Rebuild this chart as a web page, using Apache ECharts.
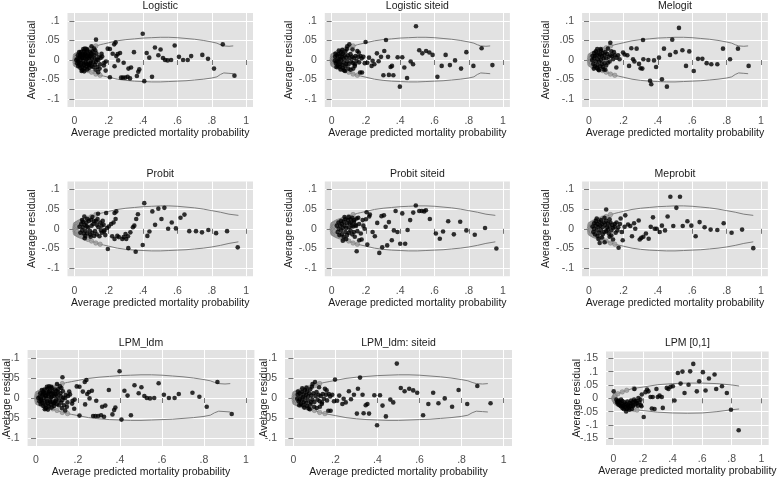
<!DOCTYPE html>
<html><head><meta charset="utf-8">
<script src="https://cdn.jsdelivr.net/npm/echarts@6/dist/echarts.min.js"></script>
<style>html,body{margin:0;padding:0;background:#fff}#c{width:778px;height:477px}</style>
</head><body><div id="c"></div>
<script>
// ---------- tick labels ----------
const xTicks = [0, 0.2, 0.4, 0.6, 0.8, 1];
const yTicks = [-0.1, -0.05, 0, 0.05, 0.1];
const yTicksLPM01 = [-0.15, -0.1, -0.05, 0, 0.05, 0.1, 0.15];
const xTitle = 'Average predicted mortality probability';
const yTitle = 'Average residual';
const panelTitles = ['Logistic', 'Logistic siteid', 'Melogit', 'Probit', 'Probit siteid', 'Meprobit', 'LPM_ldm', 'LPM_ldm: siteid', 'LPM [0,1]'];

// ---------- bounds (±2 SE) ----------
const boundLogitUpper = [[0.001,0.002],[0.003,0.006],[0.005,0.008],[0.008,0.010],[0.011,0.012],[0.015,0.013],[0.02,0.015],[0.025,0.016],[0.03,0.017],[0.035,0.018],[0.04,0.019],[0.045,0.020],[0.05,0.021],[0.06,0.023],[0.07,0.025],[0.08,0.027],[0.09,0.029],[0.1,0.031],[0.11,0.033],[0.12,0.035],[0.13,0.036],[0.14,0.038],[0.15,0.039],[0.17,0.041],[0.2,0.044],[0.25,0.049],[0.3,0.052],[0.35,0.054],[0.4,0.056],[0.45,0.057],[0.5,0.058],[0.55,0.058],[0.6,0.057],[0.65,0.055],[0.7,0.053],[0.75,0.050],[0.8,0.046],[0.83,0.043],[0.85,0.039],[0.87,0.036],[0.9,0.035],[0.925,0.036]];
const boundLogitLower = [[0.001,-0.002],[0.003,-0.006],[0.005,-0.008],[0.008,-0.010],[0.011,-0.012],[0.015,-0.013],[0.02,-0.015],[0.025,-0.016],[0.03,-0.017],[0.035,-0.018],[0.04,-0.019],[0.045,-0.020],[0.05,-0.021],[0.06,-0.023],[0.07,-0.025],[0.08,-0.027],[0.09,-0.029],[0.1,-0.031],[0.11,-0.033],[0.12,-0.035],[0.13,-0.036],[0.14,-0.038],[0.15,-0.039],[0.17,-0.041],[0.2,-0.044],[0.25,-0.049],[0.3,-0.052],[0.35,-0.054],[0.4,-0.055],[0.45,-0.056],[0.5,-0.056],[0.55,-0.055],[0.6,-0.054],[0.65,-0.053],[0.7,-0.051],[0.75,-0.049],[0.8,-0.046],[0.83,-0.043],[0.85,-0.037],[0.87,-0.033],[0.9,-0.034],[0.925,-0.035]];
const boundProbitUpper = [[0.001,0.002],[0.003,0.006],[0.005,0.008],[0.008,0.010],[0.011,0.012],[0.015,0.013],[0.02,0.015],[0.025,0.016],[0.03,0.017],[0.035,0.018],[0.04,0.019],[0.045,0.020],[0.05,0.021],[0.06,0.023],[0.07,0.025],[0.08,0.027],[0.09,0.029],[0.1,0.031],[0.11,0.033],[0.12,0.035],[0.13,0.036],[0.14,0.038],[0.15,0.039],[0.17,0.041],[0.2,0.044],[0.25,0.049],[0.3,0.052],[0.35,0.054],[0.4,0.056],[0.45,0.057],[0.5,0.058],[0.55,0.058],[0.6,0.057],[0.65,0.055],[0.7,0.053],[0.75,0.050],[0.8,0.046],[0.85,0.042],[0.9,0.037],[0.955,0.034]];
const boundProbitLower = [[0.001,-0.002],[0.003,-0.006],[0.005,-0.008],[0.008,-0.010],[0.011,-0.012],[0.015,-0.013],[0.02,-0.015],[0.025,-0.016],[0.03,-0.017],[0.035,-0.018],[0.04,-0.019],[0.045,-0.020],[0.05,-0.021],[0.06,-0.023],[0.07,-0.025],[0.08,-0.027],[0.09,-0.029],[0.1,-0.031],[0.11,-0.033],[0.12,-0.035],[0.13,-0.036],[0.14,-0.038],[0.15,-0.039],[0.17,-0.041],[0.2,-0.044],[0.25,-0.049],[0.3,-0.052],[0.35,-0.054],[0.4,-0.055],[0.45,-0.056],[0.5,-0.056],[0.55,-0.055],[0.6,-0.054],[0.65,-0.053],[0.7,-0.051],[0.75,-0.049],[0.8,-0.046],[0.85,-0.042],[0.9,-0.037],[0.955,-0.033]];
const boundLpmUpper = [[0.002,0.003],[0.006,0.008],[0.01,0.011],[0.02,0.014],[0.03,0.017],[0.04,0.019],[0.05,0.022],[0.06,0.024],[0.07,0.026],[0.08,0.028],[0.09,0.030],[0.1,0.032],[0.12,0.035],[0.15,0.038],[0.2,0.042],[0.3,0.051],[0.4,0.055],[0.5,0.057],[0.6,0.057],[0.7,0.055],[0.8,0.050],[0.85,0.046]];
const boundLpmLower = [[0.002,-0.003],[0.006,-0.008],[0.01,-0.012],[0.02,-0.018],[0.03,-0.022],[0.04,-0.025],[0.05,-0.028],[0.06,-0.030],[0.07,-0.032],[0.08,-0.034],[0.09,-0.036],[0.1,-0.037],[0.12,-0.040],[0.15,-0.043],[0.2,-0.046],[0.3,-0.052],[0.4,-0.055],[0.5,-0.056],[0.6,-0.055],[0.7,-0.050],[0.8,-0.043],[0.85,-0.040]];

// ---------- gray markers on the bounds near zero ----------
const grayNearZero = [[0.002,0],[0.004,0.006],[0.004,-0.006],[0.006,0.011],[0.006,-0.011],[0.009,0.003],[0.009,-0.003],[0.012,0.013],[0.012,-0.013],[0.016,0.007],[0.016,-0.007],[0.02,0.015],[0.02,-0.015],[0.028,0.017],[0.028,-0.017],[0.038,0.019],[0.038,-0.019],[0.05,0.021],[0.05,-0.021],[0.065,0.024],[0.065,-0.024],[0.08,0.027],[0.08,-0.027],[0.1,0.031],[0.1,-0.031],[0.125,0.036],[0.125,-0.036],[0.15,-0.039]];
const grayLpm01 = [[0.002,0.002],[0.004,-0.004],[0.008,0.008],[0.008,-0.008],[0.014,0.012],[0.014,-0.014],[0.02,-0.018],[0.03,-0.022],[0.04,-0.025],[0.055,-0.029],[0.07,-0.032],[0.085,-0.035],[0.1,-0.037],[0.12,-0.04],[0.14,-0.042],[0.16,-0.044],[0.03,0.017],[0.06,0.024],[0.09,0.03],[0.14,0.037]];

// ---------- binned average residuals ----------
const ptsLogistic = [[0.126,0.052],[0.398,0.067],[0.864,0.04],[0.932,-0.04],[0.813,-0.022],[0.778,0.003],[0.745,0.013],[0.68,0.01],[0.66,0],[0.633,0],[0.609,0.008],[0.584,0.037],[0.563,0],[0.543,-0.001],[0.528,0],[0.516,0.005],[0.502,0.027],[0.489,0.012],[0.469,0.032],[0.436,0.006],[0.421,0.018],[0.407,-0.054],[0.452,-0.043],[0.347,0.02],[0.378,-0.024],[0.372,-0.03],[0.364,-0.041],[0.33,-0.019],[0.315,-0.022],[0.296,-0.045],[0.31,-0.043],[0.283,-0.045],[0.272,-0.045],[0.324,-0.047],[0.287,-0.007],[0.266,0.018],[0.234,-0.016],[0.24,0.045],[0.232,0.04],[0.244,0.01],[0.252,0.015],[0.255,-0.001],[0.207,0.028],[0.194,0.029],[0.207,-0.044],[0.223,0.016],[0.184,-0.004],[0.174,-0.007],[0.172,-0.014],[0.182,-0.027],[0.147,-0.022],[0.139,-0.031],[0.123,-0.025],[0.158,0.016],[0.162,0.009],[0.153,0.005],[0.139,0],[0.121,0.025],[0.114,0.029],[0.104,0.014],[0.096,-0.004],[0.089,0.01],[0.083,-0.014],[0.071,0.001],[0.061,0.015],[0.052,-0.009],[0.042,-0.028],[0.048,0.005],[0.032,0.01],[0.024,-0.003],[0.017,0.003],[0.011,0],[0.075,-0.024],[0.1,0.035],
[0.02,0.012],[0.025,-0.006],[0.03,0.006],[0.03,-0.012],[0.035,0.016],[0.036,0],[0.04,-0.009],[0.04,0.021],[0.045,0.006],[0.045,-0.018],[0.05,0.013],[0.05,-0.002],[0.055,0.023],[0.056,-0.013],[0.06,0.005],[0.06,-0.021],[0.065,0.018],[0.066,-0.006],[0.07,0.011],[0.07,-0.016],[0.075,0.025],[0.076,0.003],[0.08,-0.009],[0.08,0.016],[0.085,0.005],[0.086,-0.02],[0.09,0.021],[0.092,-0.008],[0.095,0.009],[0.1,-0.015],[0.102,0.004],[0.106,0.022],[0.11,-0.006],[0.116,0.012],[0.12,-0.012],[0.128,0.017],[0.13,0.001],[0.134,-0.018],[0.142,0.008],[0.15,-0.011],[0.016,-0.008],[0.022,-0.015],[0.028,0.02],[0.052,0.028],[0.062,0.029],[0.047,-0.026],[0.057,-0.029],[0.072,0.028],[0.035,-0.02],[0.04,0.012],[0.058,0.01],[0.068,-0.01],[0.078,0.012],[0.088,-0.012],[0.098,0.018],[0.108,-0.018],[0.118,0.004],[0.126,-0.005]];
const ptsLogisticSite = [[0.492,0.086],[0.317,0.051],[0.938,-0.013],[0.875,0.03],[0.827,-0.015],[0.786,0.02],[0.755,-0.022],[0.72,-0.001],[0.69,-0.013],[0.665,0.013],[0.642,-0.015],[0.617,-0.043],[0.589,0.013],[0.57,0.019],[0.551,0.023],[0.529,0.017],[0.511,0.025],[0.475,-0.011],[0.461,-0.004],[0.44,-0.046],[0.424,-0.019],[0.398,-0.068],[0.412,0.007],[0.385,0.007],[0.352,-0.015],[0.344,-0.018],[0.334,-0.038],[0.36,-0.039],[0.329,0.008],[0.302,-0.039],[0.307,0.023],[0.288,0.008],[0.274,-0.003],[0.264,0.017],[0.249,-0.011],[0.239,-0.002],[0.233,-0.015],[0.198,0.046],[0.218,0.006],[0.208,-0.007],[0.193,-0.008],[0.177,-0.032],[0.166,-0.032],[0.169,0.01],[0.158,0.019],[0.15,0.023],[0.136,-0.011],[0.126,-0.022],[0.111,-0.025],[0.103,0.04],[0.091,0.035],[0.122,0.027],[0.084,-0.011],[0.078,-0.028],
[0.02,0.008],[0.025,-0.008],[0.03,0.012],[0.03,-0.004],[0.035,0.004],[0.035,-0.015],[0.04,0.015],[0.04,-0.006],[0.045,0.002],[0.045,-0.018],[0.05,0.01],[0.05,-0.01],[0.055,0.02],[0.055,0],[0.06,-0.012],[0.06,0.008],[0.065,0.016],[0.065,-0.02],[0.07,0.004],[0.07,-0.006],[0.075,0.012],[0.08,-0.016],[0.08,0.022],[0.085,0.006],[0.09,-0.004],[0.095,0.012],[0.1,-0.01],[0.105,0.005],[0.11,0.015],[0.115,-0.004],[0.12,0.008],[0.13,0.005],[0.14,0.01],[0.145,-0.002],[0.018,-0.002],[0.022,0.016],[0.028,-0.018],[0.042,0.024],[0.052,-0.024],[0.062,0.026],[0.072,-0.026],[0.088,0.028],[0.098,-0.022],[0.125,-0.008],[0.135,-0.015],[0.155,0.008],[0.16,-0.006],[0.175,0.004],[0.185,0.008]];
const ptsMelogit = [[0.523,0.082],[0.314,0.051],[0.484,0.052],[0.928,-0.015],[0.866,0.029],[0.82,0.002],[0.779,0.029],[0.746,-0.011],[0.711,-0.011],[0.684,-0.008],[0.659,0.003],[0.634,0.003],[0.609,-0.028],[0.583,0.022],[0.564,-0.015],[0.543,0.025],[0.504,0.02],[0.471,0.013],[0.436,0.029],[0.424,-0.049],[0.453,-0.068],[0.407,0.006],[0.39,-0.018],[0.378,-0.001],[0.355,-0.053],[0.362,-0.062],[0.345,0],[0.316,0.002],[0.31,-0.022],[0.3,-0.021],[0.291,-0.01],[0.277,0.029],[0.264,-0.004],[0.246,0.03],[0.233,-0.015],[0.256,0.002],[0.223,0.012],[0.207,0.014],[0.198,0.019],[0.169,0.012],[0.178,0.002],[0.159,-0.019],[0.145,0.02],[0.13,0.022],[0.11,0.029],[0.124,0.044],[0.095,-0.025],[0.11,-0.007],
[0.02,0.01],[0.025,-0.01],[0.03,0.004],[0.03,0.018],[0.035,-0.016],[0.035,0.01],[0.04,-0.004],[0.04,0.022],[0.045,0.012],[0.045,-0.02],[0.05,0.002],[0.05,-0.012],[0.055,0.018],[0.055,-0.024],[0.06,0.008],[0.06,-0.004],[0.065,0.014],[0.065,-0.016],[0.07,0.024],[0.07,0],[0.075,-0.01],[0.075,0.01],[0.08,0.018],[0.08,-0.018],[0.085,0.004],[0.09,0.012],[0.09,-0.008],[0.095,0.02],[0.1,0.004],[0.1,-0.014],[0.105,0.016],[0.115,0.008],[0.12,-0.004],[0.125,0.012],[0.135,0.01],[0.14,0.002],[0.15,0.012],[0.16,0.006],[0.018,0],[0.028,-0.022],[0.048,0.028],[0.058,-0.026],[0.068,0.028],[0.085,-0.024]];
const ptsProbit = [[0.407,0.065],[0.37,0.037],[0.36,0.025],[0.349,0.008],[0.341,0.004],[0.326,-0.009],[0.314,-0.049],[0.357,-0.058],[0.398,-0.041],[0.425,-0.018],[0.437,-0.007],[0.454,0.044],[0.47,0.01],[0.489,0.051],[0.507,0.025],[0.524,0.053],[0.546,0],[0.567,0.016],[0.591,0.001],[0.618,0.028],[0.641,0.036],[0.669,-0.006],[0.708,-0.006],[0.743,-0.009],[0.78,-0.003],[0.825,-0.011],[0.889,-0.006],[0.951,-0.047],[0.312,-0.019],[0.298,-0.013],[0.287,-0.021],[0.279,-0.026],[0.302,-0.026],[0.259,-0.021],[0.25,-0.018],[0.234,-0.026],[0.22,-0.019],[0.228,0.016],[0.24,0.025],[0.244,0.044],[0.234,0.04],[0.214,0.012],[0.195,-0.051],[0.185,0.04],[0.172,-0.007],[0.158,0.008],[0.146,-0.019],[0.138,0.038],[0.131,0.01],[0.115,0.019],[0.097,0.023],[0.092,-0.015],[0.072,0.006],[0.064,-0.018],[0.058,0.031],
[0.03,0.005],[0.035,-0.01],[0.04,0.012],[0.045,-0.004],[0.05,0.018],[0.05,0.004],[0.055,-0.012],[0.06,0.01],[0.065,-0.005],[0.07,0.015],[0.075,-0.012],[0.08,0.004],[0.085,0.02],[0.09,-0.005],[0.1,0.008],[0.105,-0.01],[0.11,0.012],[0.12,-0.006],[0.125,0.02],[0.13,-0.014],[0.14,0.004],[0.15,0.016],[0.16,-0.01],[0.17,0.01],[0.18,-0.016],[0.19,0.002],[0.2,0.006],[0.045,0.022],[0.06,-0.024],[0.075,0.025],[0.095,-0.02],[0.115,-0.018],[0.135,0.025],[0.155,-0.004],[0.165,0.02],[0.175,-0.004],[0.105,0.03]];
const ptsProbitSite = [[0.491,0.059],[0.526,0.045],[0.511,0.045],[0.54,0.044],[0.55,0.047],[0.573,0.025],[0.476,0.041],[0.458,0.022],[0.443,-0.003],[0.429,-0.038],[0.4,-0.038],[0.412,0.039],[0.384,-0.008],[0.373,0.045],[0.363,-0.004],[0.351,-0.029],[0.334,0.017],[0.324,-0.042],[0.305,0.034],[0.291,0.032],[0.315,0.005],[0.295,-0.047],[0.278,-0.061],[0.266,0.015],[0.252,-0.019],[0.239,-0.008],[0.223,0.036],[0.219,0.031],[0.208,-0.04],[0.204,0.042],[0.2,0.024],[0.192,0],[0.181,0.022],[0.175,-0.027],[0.161,-0.029],[0.146,-0.057],[0.155,0.028],[0.142,0.007],[0.132,0.022],[0.13,-0.008],[0.118,0.008],[0.111,0.024],[0.608,-0.012],[0.631,-0.025],[0.65,-0.007],[0.68,0.019],[0.713,-0.014],[0.75,0.018],[0.786,-0.004],[0.835,-0.015],[0.895,0.002],[0.961,-0.05],
[0.03,0.008],[0.035,-0.008],[0.04,0.016],[0.04,0],[0.045,-0.016],[0.05,0.008],[0.055,-0.004],[0.055,0.02],[0.06,0.012],[0.06,-0.014],[0.065,0.002],[0.07,0.018],[0.07,-0.02],[0.075,0.008],[0.08,-0.008],[0.08,0.024],[0.085,0.002],[0.09,0.014],[0.09,-0.016],[0.095,0.022],[0.1,0.004],[0.1,-0.01],[0.105,0.014],[0.11,-0.004],[0.115,0.016],[0.12,-0.014],[0.125,0.006],[0.13,0.018],[0.135,-0.02],[0.14,0.01],[0.145,0.026],[0.15,-0.006],[0.16,0.012],[0.17,-0.012],[0.185,0.008],[0.065,-0.03],[0.085,-0.026],[0.1,0.03],[0.12,0.028],[0.075,0.03]];
const ptsMeprobit = [[0.473,0.081],[0.529,0.081],[0.508,0.053],[0.49,0.007],[0.457,0.031],[0.442,-0.004],[0.424,0.008],[0.411,-0.008],[0.393,0],[0.382,0],[0.372,0.029],[0.359,0.005],[0.347,-0.025],[0.331,-0.012],[0.316,-0.02],[0.304,-0.023],[0.295,-0.027],[0.289,0.021],[0.269,0],[0.262,0.014],[0.25,-0.019],[0.24,0.007],[0.227,0.011],[0.211,0.034],[0.207,0.005],[0.196,-0.029],[0.184,0.026],[0.172,-0.048],[0.165,-0.004],[0.149,0.005],[0.14,-0.027],[0.13,-0.017],[0.11,-0.002],[0.1,0.049],[0.12,0.024],[0.091,-0.034],[0.062,-0.036],[0.545,0.007],[0.572,0.019],[0.595,0.008],[0.62,-0.019],[0.643,0.017],[0.672,0.004],[0.707,-0.002],[0.746,-0.003],[0.783,0.014],[0.829,-0.01],[0.89,-0.002],[0.955,-0.049],
[0.02,0.006],[0.025,-0.008],[0.03,0.014],[0.03,0],[0.035,-0.014],[0.04,0.008],[0.04,0.02],[0.045,-0.004],[0.05,0.012],[0.05,-0.018],[0.055,0.004],[0.06,0.018],[0.06,-0.01],[0.065,0.008],[0.07,-0.004],[0.07,0.022],[0.075,0.012],[0.08,-0.014],[0.08,0.004],[0.085,0.016],[0.09,-0.008],[0.095,0.01],[0.1,0.02],[0.1,-0.006],[0.105,0.004],[0.11,0.014],[0.115,-0.012],[0.12,0.006],[0.125,0.016],[0.13,-0.004],[0.135,0.01],[0.14,0.002],[0.15,0.012],[0.155,-0.01],[0.16,0.016],[0.17,0.004],[0.045,0.026],[0.055,-0.026],[0.075,-0.022],[0.09,0.028],[0.12,-0.02],[0.18,0.012],[0.19,-0.008]];
const ptsLpm01 = [[0.54,0.129],[0.467,0.1],[0.436,0.095],[0.519,0.101],[0.605,0.098],[0.684,0.089],[0.646,0.074],[0.58,0.064],[0.508,0.051],[0.454,0.055],[0.481,0.02],[0.564,0.026],[0.623,0.029],[0.695,0.035],[0.734,0.045],[0.767,0.02],[0.795,-0.043],[0.847,-0.12],[0.402,0.045],[0.386,0.043],[0.372,0.035],[0.361,0.039],[0.413,-0.008],[0.334,-0.036],[0.3,0.005],[0.278,-0.04],[0.26,-0.038],[0.327,0.005],[0.312,0.01],[0.291,0.035],[0.266,0.005],[0.251,0.005],[0.237,0.026],[0.228,0.033],[0.217,0.023],[0.205,-0.07],[0.192,0.014],[0.183,-0.005],[0.169,0.001],[0.16,-0.018],[0.147,-0.011],[0.142,0.035],[0.131,-0.03],[0.12,-0.02],[0.108,-0.043],[0.097,-0.03],[0.086,-0.049],[0.074,-0.024],[0.061,-0.036],[0.052,-0.005],[0.002,0.026],[0.03,-0.011],
[0.02,-0.005],[0.025,-0.015],[0.03,-0.02],[0.035,-0.008],[0.04,-0.025],[0.045,-0.015],[0.05,-0.03],[0.055,-0.02],[0.06,-0.01],[0.065,-0.028],[0.07,-0.04],[0.075,-0.015],[0.08,-0.034],[0.085,-0.022],[0.09,-0.04],[0.095,-0.012],[0.1,-0.025],[0.105,-0.035],[0.11,-0.018],[0.115,-0.03],[0.12,-0.008],[0.125,-0.04],[0.13,-0.015],[0.135,-0.025],[0.14,-0.005],[0.15,-0.022],[0.155,-0.01],[0.165,-0.028],[0.175,-0.015],[0.185,-0.025],[0.19,-0.03]];

// ---------- layout ----------
const panels = [
  {pts: ptsLogistic,      gray: grayNearZero, up: boundLogitUpper,  lo: boundLogitLower,  g: {left: 67.5,  top: 13,    width: 185.5, height: 94},   xr: [-0.04, 1.04], yr: [-0.12, 0.12],   yt: yTicks,      ng: 30, ty: 0},
  {pts: ptsLogisticSite,  gray: grayNearZero, up: boundLogitUpper,  lo: boundLogitLower,  g: {left: 324.8, top: 13,    width: 185.1, height: 94},   xr: [-0.04, 1.04], yr: [-0.12, 0.12],   yt: yTicks,      ng: 30, ty: 0},
  {pts: ptsMelogit,       gray: grayNearZero, up: boundLogitUpper,  lo: boundLogitLower,  g: {left: 582.1, top: 13,    width: 185.8, height: 94},   xr: [-0.04, 1.04], yr: [-0.12, 0.12],   yt: yTicks,      ng: 30, ty: 0},
  {pts: ptsProbit,        gray: grayNearZero, up: boundProbitUpper, lo: boundProbitLower, g: {left: 67.5,  top: 181.4, width: 185.5, height: 94.8}, xr: [-0.04, 1.04], yr: [-0.12, 0.12],   yt: yTicks,      ng: 30, ty: 168},
  {pts: ptsProbitSite,    gray: grayNearZero, up: boundProbitUpper, lo: boundProbitLower, g: {left: 324.8, top: 181.4, width: 185.1, height: 94.8}, xr: [-0.04, 1.04], yr: [-0.12, 0.12],   yt: yTicks,      ng: 30, ty: 168},
  {pts: ptsMeprobit,      gray: grayNearZero, up: boundProbitUpper, lo: boundProbitLower, g: {left: 582.1, top: 181.4, width: 185.8, height: 94.8}, xr: [-0.04, 1.04], yr: [-0.12, 0.12],   yt: yTicks,      ng: 30, ty: 168},
  {pts: ptsLogistic,      gray: grayNearZero, up: boundLogitUpper,  lo: boundLogitLower,  g: {left: 27.6,  top: 350,   width: 226.8, height: 96},   xr: [-0.04, 1.04], yr: [-0.12, 0.12],   yt: yTicks,      ng: 15, ty: 337},
  {pts: ptsLogisticSite,  gray: grayNearZero, up: boundLogitUpper,  lo: boundLogitLower,  g: {left: 285,   top: 350,   width: 227,   height: 96},   xr: [-0.04, 1.04], yr: [-0.12, 0.12],   yt: yTicks,      ng: 15, ty: 337},
  {pts: ptsLpm01,         gray: grayLpm01,    up: boundLpmUpper,    lo: boundLpmLower,    g: {left: 606,   top: 351.6, width: 162.7, height: 93.4}, xr: [-0.05, 1.05], yr: [-0.175, 0.175], yt: yTicksLPM01,  ng: 23, ty: 337}
];

function fmt(v) {
  if (Math.abs(v) < 1e-9) return '0';
  const s = String(+v.toFixed(3));
  return s.replace(/^(-?)0\./, '$1.');
}

const FONT = 'Liberation Sans, Arial, sans-serif';
const FS = 10.5;
const grid = [], xAxis = [], yAxis = [], series = [], title = [];
panels.forEach((p, i) => {
  grid.push(Object.assign({show: true, backgroundColor: '#e2e2e2', borderWidth: 0, containLabel: false, outerBoundsMode: 'none'}, p.g));
  title.push({text: panelTitles[i], left: p.g.left + p.g.width / 2, top: p.ty, textAlign: 'center', padding: 0,
    textStyle: {fontFamily: FONT, fontSize: FS, fontWeight: 'normal', color: '#1a1a1a', lineHeight: 12}});
  xAxis.push({type: 'value', gridIndex: i, min: p.xr[0], max: p.xr[1],
    name: xTitle, nameLocation: 'middle', nameGap: 21, nameMoveOverlap: false,
    nameTextStyle: {fontFamily: FONT, fontSize: FS, color: '#1a1a1a'},
    axisLine: {show: false},
    axisTick: {show: true, length: 5, inside: false, customValues: xTicks, lineStyle: {color: '#777', width: 1}},
    axisLabel: {customValues: xTicks, formatter: fmt, margin: 9, fontFamily: FONT, fontSize: FS, color: '#4d4d4d'},
    splitLine: {show: true, lineStyle: {color: '#ffffff', width: 1}}});
  yAxis.push({type: 'value', gridIndex: i, min: p.yr[0], max: p.yr[1],
    name: yTitle, nameLocation: 'middle', nameGap: p.ng, nameRotate: 90, nameMoveOverlap: false,
    nameTextStyle: {fontFamily: FONT, fontSize: FS, color: '#1a1a1a'},
    axisLine: {show: false},
    axisTick: {show: true, length: 5, inside: false, customValues: p.yt, lineStyle: {color: '#777', width: 1}},
    axisLabel: {customValues: p.yt, formatter: fmt, margin: 8, fontFamily: FONT, fontSize: FS, color: '#4d4d4d'},
    splitLine: {show: true, lineStyle: {color: '#ffffff', width: 1}}});
  series.push({type: 'line', xAxisIndex: i, yAxisIndex: i, data: p.up, showSymbol: false, silent: true, z: 2,
    lineStyle: {color: '#7d7d7d', width: 1}});
  series.push({type: 'line', xAxisIndex: i, yAxisIndex: i, data: p.lo, showSymbol: false, silent: true, z: 2,
    lineStyle: {color: '#7d7d7d', width: 1}});
  series.push({type: 'scatter', xAxisIndex: i, yAxisIndex: i, data: p.gray, symbolSize: 4.5, silent: true, z: 3,
    itemStyle: {color: '#9c9c9c', borderColor: '#777777', borderWidth: 0.6}});
  series.push({type: 'scatter', xAxisIndex: i, yAxisIndex: i, data: p.pts, symbolSize: 4.6, silent: true, z: 4,
    itemStyle: {color: '#000000'}});
});

const chart = echarts.init(document.getElementById('c'), null, {renderer: 'canvas'});
chart.setOption({animation: false, backgroundColor: '#ffffff', title, grid, xAxis, yAxis, series});
</script>
</body></html>
